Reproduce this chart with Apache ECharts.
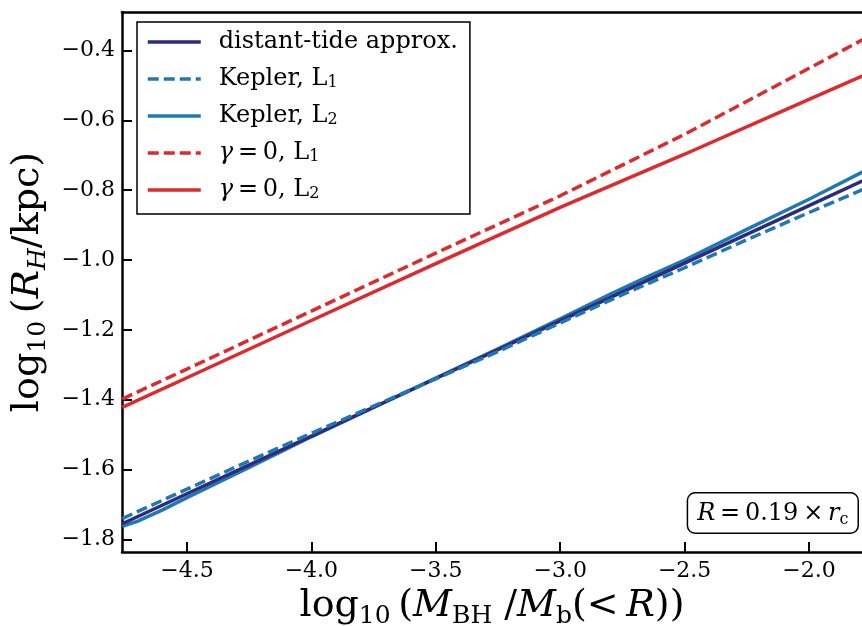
<!DOCTYPE html>
<html>
<head>
<meta charset="utf-8">
<script src="https://cdn.jsdelivr.net/npm/echarts@6/dist/echarts.min.js"></script>
<style>html,body{margin:0;padding:0;background:#fff;}#c{width:862px;height:626px;}</style>
</head>
<body>
<div id="c"></div>
<script>
// ---- data ----
const xTicks = [-4.5, -4.0, -3.5, -3.0, -2.5, -2.0];
const yTicks = [-1.8, -1.6, -1.4, -1.2, -1.0, -0.8, -0.6, -0.4];

const distantX = [-4.76, -4.5, -4.0, -3.5, -3.0, -2.5, -2.0, -1.75];
const distantY = [-1.755, -1.669, -1.504, -1.339, -1.174, -1.009, -0.844, -0.762];

const keplerL1X = [-4.76, -4.5, -4.25, -4.0, -3.75, -3.5, -3.25, -3.0, -2.75, -2.5, -2.25, -2.0, -1.75];
const keplerL1Y = [-1.740, -1.656, -1.575, -1.496, -1.418, -1.340, -1.262, -1.180, -1.099, -1.022, -0.942, -0.864, -0.788];

const keplerL2X = [-4.76, -4.7, -4.6, -4.5, -4.25, -4.0, -3.75, -3.5, -3.25, -3.0, -2.8, -2.65, -2.5, -2.25, -2.0, -1.75];
const keplerL2Y = [-1.762, -1.748, -1.716, -1.680, -1.594, -1.506, -1.422, -1.338, -1.254, -1.168, -1.098, -1.048, -1.000, -0.912, -0.826, -0.735];

const gammaL1X = [-4.76, -4.5, -4.0, -3.5, -3.0, -2.5, -2.0, -1.75];
const gammaL1Y = [-1.398, -1.312, -1.146, -0.980, -0.816, -0.640, -0.451, -0.356];

const gammaL2X = [-4.76, -4.5, -4.0, -3.5, -3.0, -2.5, -2.0, -1.75];
const gammaL2Y = [-1.422, -1.337, -1.173, -1.010, -0.849, -0.697, -0.540, -0.462];

const names = ['distant-tide approx.', 'Kepler, L1', 'Kepler, L2', 'γ=0, L1', 'γ=0, L2'];

function zip(xs, ys) { return xs.map((x, i) => [x, ys[i]]); }
function fmt(v) { return (v < 0 ? '\u2212' : '') + Math.abs(v).toFixed(1); }

const SERIF = '"DejaVu Serif", serif';
const NAVY = '#2d2c7c', BLUE = '#1f77b4', RED = '#dd2a2c';

const chart = echarts.init(document.getElementById('c'), null, {renderer: 'canvas'});

const legendRich = {
  n: {fontFamily: SERIF, fontSize: 24, color: '#000', lineHeight: 24},
  s: {fontFamily: SERIF, fontSize: 16, color: '#000', verticalAlign: 'bottom', lineHeight: 16},
  i: {fontFamily: SERIF, fontStyle: 'italic', fontSize: 24, color: '#000', lineHeight: 24}
};
const legendFmt = {
  'distant-tide approx.': '{n|distant-tide approx.}',
  'Kepler, L1': '{n|Kepler, L}{s|1}',
  'Kepler, L2': '{n|Kepler, L}{s|2}',
  'γ=0, L1': '{i|γ}{n|\u2009=\u20090, L}{s|1}',
  'γ=0, L2': '{i|γ}{n|\u2009=\u20090, L}{s|2}'
};

function lineSeries(name, data, color, dashed, z) {
  return {
    name: name, type: 'line', data: data, showSymbol: false, symbol: 'none',
    smooth: false, z: z, clip: true, animation: false,
    lineStyle: {color: color, width: 3.5, type: dashed ? [11, 5] : 'solid', cap: 'butt'},
    itemStyle: {color: color}
  };
}

const axisNameRich = {
  t: {fontFamily: SERIF, fontSize: 38, color: '#000', lineHeight: 46},
  i: {fontFamily: SERIF, fontStyle: 'italic', fontSize: 38, color: '#000', lineHeight: 46},
  s: {fontFamily: SERIF, fontSize: 25, color: '#000', verticalAlign: 'bottom', lineHeight: 21},
  si: {fontFamily: SERIF, fontStyle: 'italic', fontSize: 25, color: '#000', verticalAlign: 'bottom', lineHeight: 21}
};

const option = {
  backgroundColor: '#fff',
  animation: false,
  grid: {left: 122, right: 0, top: 12, bottom: 74, containLabel: false, outerBoundsMode: 'none'},
  xAxis: [{
    type: 'value', min: -4.761, max: -1.787, position: 'bottom',
    axisLine: {show: true, onZero: false, lineStyle: {color: '#000', width: 2.5}},
    axisTick: {show: true, inside: true, length: 10, customValues: xTicks, lineStyle: {color: '#000', width: 2}},
    axisLabel: {show: true, customValues: xTicks, formatter: fmt, margin: 8,
      fontFamily: SERIF, fontSize: 22, color: '#000'},
    splitLine: {show: false},
    name: '{t|log}{s|10}{t|\u2009(}{i|M}{s|BH}{t| /}{i|M}{s|b}{t|(<\u2009}{i|R}{t|))}',
    nameLocation: 'middle', nameGap: 28,
    nameTextStyle: {rich: axisNameRich}
  }, {
    type: 'value', min: -4.761, max: -1.787, position: 'top',
    axisLine: {show: true, onZero: false, lineStyle: {color: '#000', width: 2.5}},
    axisTick: {show: false}, axisLabel: {show: false}, splitLine: {show: false}
  }],
  yAxis: [{
    type: 'value', min: -1.8358, max: -0.2898, position: 'left',
    axisLine: {show: true, onZero: false, lineStyle: {color: '#000', width: 2.5}},
    axisTick: {show: true, inside: true, length: 10, customValues: yTicks, lineStyle: {color: '#000', width: 2}},
    axisLabel: {show: true, customValues: yTicks, formatter: fmt, margin: 7,
      fontFamily: SERIF, fontSize: 22, color: '#000'},
    splitLine: {show: false},
    name: '{t|log}{s|10}{t|\u2009(}{i|R}{si|H}{t|/kpc)}',
    nameLocation: 'middle', nameGap: 70, nameRotate: 90,
    nameTextStyle: {rich: axisNameRich}
  }],
  legend: {
    show: true, orient: 'vertical', left: 137, top: 22,
    data: names,
    itemWidth: 53, itemHeight: 20, itemGap: 13,
    padding: [8, 12, 12, 9],
    borderColor: '#000', borderWidth: 1.5, borderRadius: 0, backgroundColor: '#fff',
    selectedMode: false,
    itemStyle: {opacity: 0},
    lineStyle: {width: 3.5},
    formatter: n => legendFmt[n],
    textStyle: {fontFamily: SERIF, fontSize: 24, color: '#000', padding: [0, 0, 0, 13], rich: legendRich}
  },
  series: [
    lineSeries(names[2], zip(keplerL2X, keplerL2Y), BLUE, false, 2),
    lineSeries(names[0], zip(distantX, distantY), NAVY, false, 3),
    lineSeries(names[1], zip(keplerL1X, keplerL1Y), BLUE, true, 4),
    lineSeries(names[3], zip(gammaL1X, gammaL1Y), RED, true, 5),
    lineSeries(names[4], zip(gammaL2X, gammaL2Y), RED, false, 6)
  ],
  graphic: [{
    type: 'text', right: 3, top: 492, z: 100,
    style: {
      text: '{i|R}{n|\u2009=\u20090.19\u2009×\u2009}{i|r}{s|c}',
      rich: {
        n: {fontFamily: SERIF, fontSize: 24, fill: '#000', lineHeight: 28},
        i: {fontFamily: SERIF, fontStyle: 'italic', fontSize: 24, fill: '#000', lineHeight: 28},
        s: {fontFamily: SERIF, fontSize: 16, fill: '#000', verticalAlign: 'bottom', lineHeight: 16}
      },
      backgroundColor: '#fff', borderColor: '#000', borderWidth: 1.5, borderRadius: 7,
      padding: [6, 9, 5, 9]
    }
  }]
};
chart.setOption(option);
</script>
</body>
</html>
